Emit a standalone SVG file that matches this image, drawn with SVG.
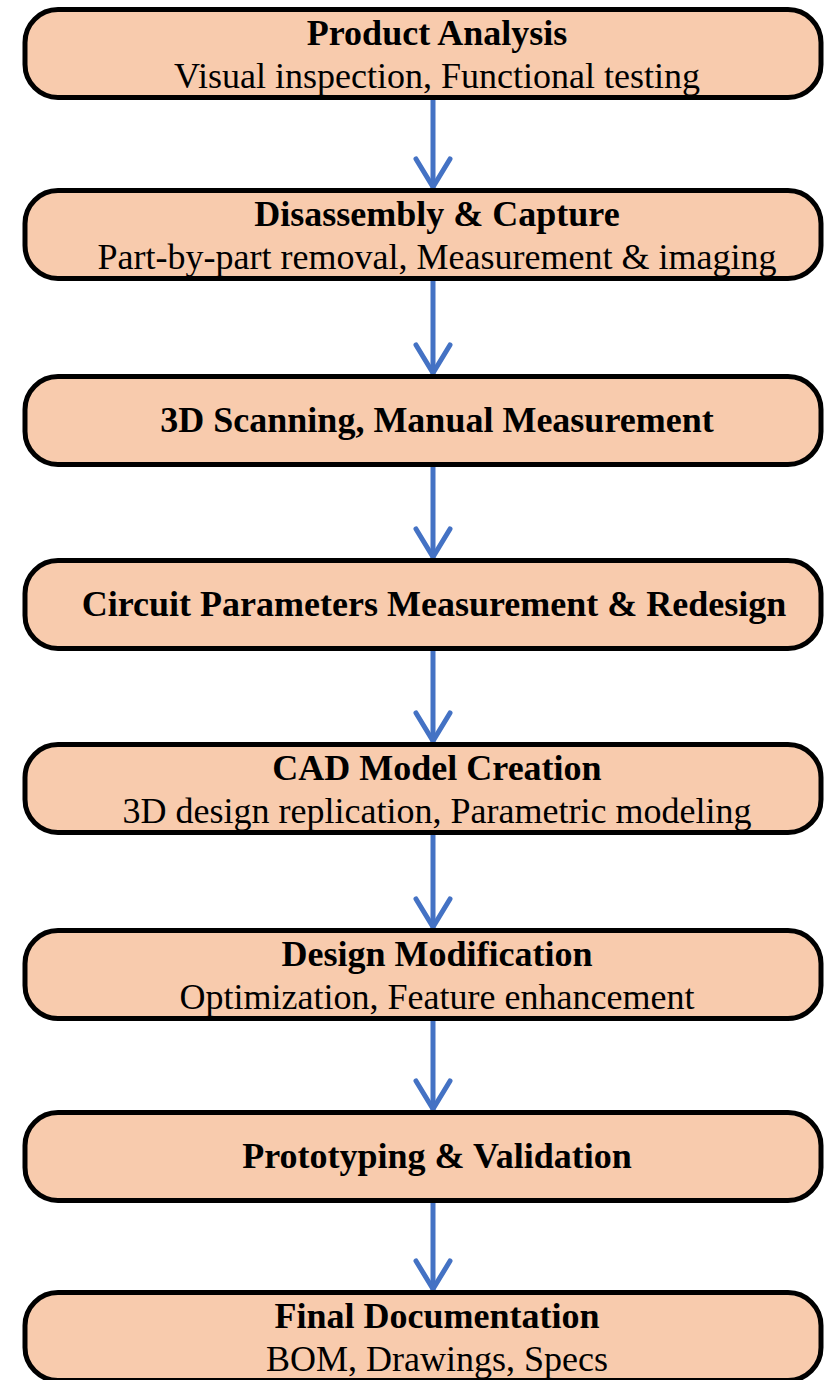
<svg xmlns="http://www.w3.org/2000/svg" width="826" height="1380" viewBox="0 0 826 1380">
<style>
.box{fill:#F8CBAD;stroke:#000;stroke-width:5}
.t{font-family:"Liberation Serif","Times New Roman",serif;font-size:36px;fill:#000;text-anchor:middle}
.b{font-weight:bold}
.c{stroke:#4472C4;stroke-width:5;fill:none;stroke-linecap:round;stroke-linejoin:round}
</style>
<defs>
<marker id="arr" markerUnits="userSpaceOnUse" viewBox="-34 -22 40 44" markerWidth="40" markerHeight="44" refX="0" refY="0" orient="auto" overflow="visible">
<path d="M-28,-17 L0,0 L-28,17" fill="none" stroke="#4472C4" stroke-width="5" stroke-linecap="round" stroke-linejoin="round"/>
</marker>
</defs>
<rect width="826" height="1380" fill="#fff"/>
<g id="connectors" class="c">
<line x1="433" y1="100" x2="433" y2="187" marker-end="url(#arr)"/>
<line x1="433" y1="281" x2="433" y2="373" marker-end="url(#arr)"/>
<line x1="433" y1="467" x2="433" y2="557" marker-end="url(#arr)"/>
<line x1="433" y1="651" x2="433" y2="741" marker-end="url(#arr)"/>
<line x1="433" y1="835" x2="433" y2="927" marker-end="url(#arr)"/>
<line x1="433" y1="1021" x2="433" y2="1109" marker-end="url(#arr)"/>
<line x1="433" y1="1203" x2="433" y2="1289" marker-end="url(#arr)"/>
</g>
<g id="n1">
<rect class="box" x="25" y="9.5" width="796" height="88" rx="33"/>
<text class="t b" x="437" y="45">Product Analysis</text>
<text class="t" x="437" y="88">Visual inspection, Functional testing</text>
</g>
<g id="n2">
<rect class="box" x="25" y="190.5" width="796" height="88" rx="33"/>
<text class="t b" x="437" y="226">Disassembly &amp; Capture</text>
<text class="t" x="437" y="269">Part-by-part removal, Measurement &amp; imaging</text>
</g>
<g id="n3">
<rect class="box" x="25" y="376.5" width="796" height="88" rx="33"/>
<text class="t b" x="437" y="432">3D Scanning, Manual Measurement</text>
</g>
<g id="n4">
<rect class="box" x="25" y="560.5" width="796" height="88" rx="33"/>
<text class="t b" x="434" y="616">Circuit Parameters Measurement &amp; Redesign</text>
</g>
<g id="n5">
<rect class="box" x="25" y="744.5" width="796" height="88" rx="33"/>
<text class="t b" x="437" y="780">CAD Model Creation</text>
<text class="t" x="437" y="823">3D design replication, Parametric modeling</text>
</g>
<g id="n6">
<rect class="box" x="25" y="930.5" width="796" height="88" rx="33"/>
<text class="t b" x="437" y="966">Design Modification</text>
<text class="t" x="437" y="1009">Optimization, Feature enhancement</text>
</g>
<g id="n7">
<rect class="box" x="25" y="1112.5" width="796" height="88" rx="33"/>
<text class="t b" x="437" y="1168">Prototyping &amp; Validation</text>
</g>
<g id="n8">
<rect class="box" x="25" y="1292.5" width="796" height="88" rx="33"/>
<text class="t b" x="437" y="1328">Final Documentation</text>
<text class="t" x="437" y="1371">BOM, Drawings, Specs</text>
</g>
</svg>
